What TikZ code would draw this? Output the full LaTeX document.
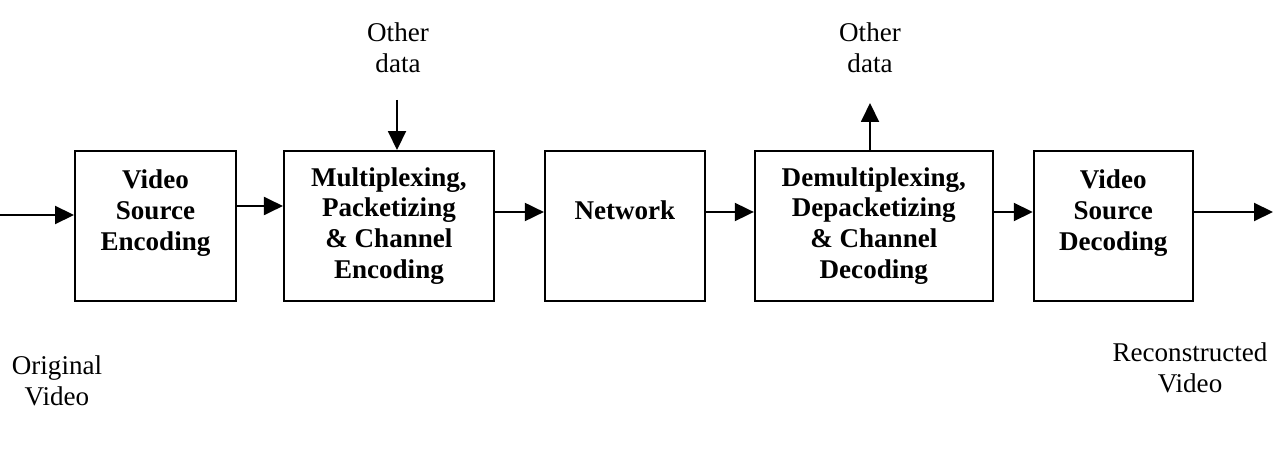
\documentclass[tikz,border=0pt]{standalone}
\usepackage{fontspec}
\setmainfont{Liberation Serif}
\usetikzlibrary{arrows.meta, positioning}

\begin{document}
\begin{tikzpicture}[node distance=1cm, >={Triangle[length=0.38cm,width=0.36cm]},
    font=\fontsize{15.4pt}{17.6pt}\selectfont, line width=1.1pt,
    box/.style={draw, minimum height=3cm, align=center, font=\fontsize{15.4pt}{17.6pt}\selectfont\bfseries},
    txt/.style={align=center, inner sep=0pt}]
    \useasboundingbox (0,0) rectangle (25.5,9.24);
    \node[box, minimum width=3.22cm] (enc) at (3.11,4.72) {Video\\Source\\Encoding\\\mbox{}};
    \node[box, right=0.92cm of enc, minimum width=4.2cm] (mux) {Multiplexing,\\Packetizing\\\& Channel\\Encoding};
    \node[box, right=0.98cm of mux, minimum width=3.2cm] (net) {Network\\\mbox{}};
    \node[box, right=0.96cm of net, minimum width=4.76cm] (demux) {Demultiplexing,\\Depacketizing\\\& Channel\\Decoding};
    \node[box, right=0.78cm of demux, minimum width=3.18cm] (dec) {Video\\Source\\Decoding\\\mbox{}};
    % side texts
    \node[txt] (orig) at (1.14,1.62) {Original\\Video};
    \node[txt] (recon) at (23.8,1.89) {Reconstructed\\Video};
    \node[txt] (othin) at (7.96,8.28) {Other\\data};
    \node[txt] (othout) at (17.4,8.28) {Other\\data};
    \coordinate (in) at (0,4.94);
    \coordinate (out) at (25.46,5.0);
    \coordinate (muxin) at (7.94,7.24);
    \coordinate (demuxout) at (17.4,7.18);
    \draw[->] (in) -- (in -| enc.west);
    \draw[->] ([yshift=0.4cm]enc.east) -- ([yshift=0.4cm]mux.west);
    \draw[->] ([yshift=0.28cm]mux.east) -- ([yshift=0.28cm]net.west);
    \draw[->] ([yshift=0.28cm]net.east) -- ([yshift=0.28cm]demux.west);
    \draw[->] ([yshift=0.28cm]demux.east) -- ([yshift=0.28cm]dec.west);
    \draw[->] ([yshift=0.28cm]dec.east) -- (out);
    \draw[->] (muxin) -- (muxin |- mux.north);
    \draw[->] (demuxout |- demux.north) -- (demuxout);
\end{tikzpicture}
\end{document}
